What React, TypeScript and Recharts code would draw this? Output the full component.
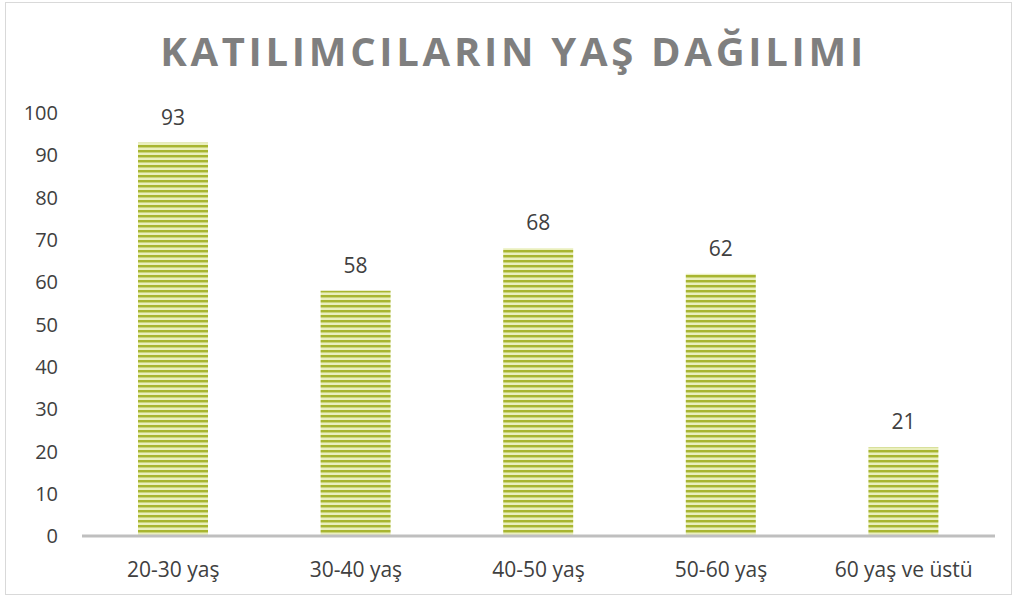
import { BarChart, Bar, XAxis, YAxis, LabelList } from "recharts";

const categories = ["20-30 yaş", "30-40 yaş", "40-50 yaş", "50-60 yaş", "60 yaş ve üstü"];
const counts = [93, 58, 68, 62, 21];
const yTicks = [0, 10, 20, 30, 40, 50, 60, 70, 80, 90, 100];

const data = categories.map((name, i) => ({ name, value: counts[i] }));

const FONT = "'Open Sans', sans-serif";
const TEXT = "#404040";

export default function App() {
  return (
    <div
      style={{
        position: "absolute",
        left: 0,
        top: 0,
        width: 1015,
        height: 597,
        background: "#fff",
        fontFamily: FONT,
      }}
    >
      <div
        style={{
          position: "absolute",
          left: 5,
          top: 2,
          width: 1005,
          height: 591,
          border: "1px solid #d9d9d9",
        }}
      />
      <div
        style={{
          position: "absolute",
          left: 6,
          top: 24,
          width: 1015,
          textAlign: "center",
          fontSize: 40,
          fontWeight: 700,
          letterSpacing: 3.7,
          color: "#7f7f7f",
          lineHeight: "54px",
        }}
      >
        KATILIMCILARIN YAŞ DAĞILIMI
      </div>
      <BarChart
        width={1015}
        height={597}
        data={data}
        margin={{ top: 113, right: 20, bottom: 0, left: 0 }}
        style={{ position: "absolute", left: 0, top: 0 }}
      >
        <defs>
          <pattern id="stripes" width="6" height="5" patternUnits="userSpaceOnUse">
            <rect x="0" y="0" width="6" height="5" fill="#eaefbd" />
            <rect x="0" y="0" width="6" height="2" fill="#a8b530" />
            <rect x="0" y="2" width="6" height="1" fill="#cbd57a" />
          </pattern>
        </defs>
        <XAxis
          dataKey="name"
          height={61}
          axisLine={{ stroke: "#bfbfbf", strokeWidth: 3 }}
          tickLine={false}
          tickMargin={20}
          tick={{ fill: TEXT, fontSize: 21, fontFamily: FONT }}
        />
        <YAxis
          width={82}
          domain={[0, 100]}
          ticks={yTicks}
          interval={0}
          axisLine={false}
          tickLine={false}
          tickMargin={18}
          tick={{ fill: TEXT, fontSize: 20, fontFamily: FONT }}
        />
        <Bar dataKey="value" barSize={70} fill="url(#stripes)" isAnimationActive={false}>
          <LabelList
            dataKey="value"
            position="top"
            offset={18}
            style={{ fill: TEXT, fontSize: 21, fontFamily: FONT }}
          />
        </Bar>
      </BarChart>
    </div>
  );
}
